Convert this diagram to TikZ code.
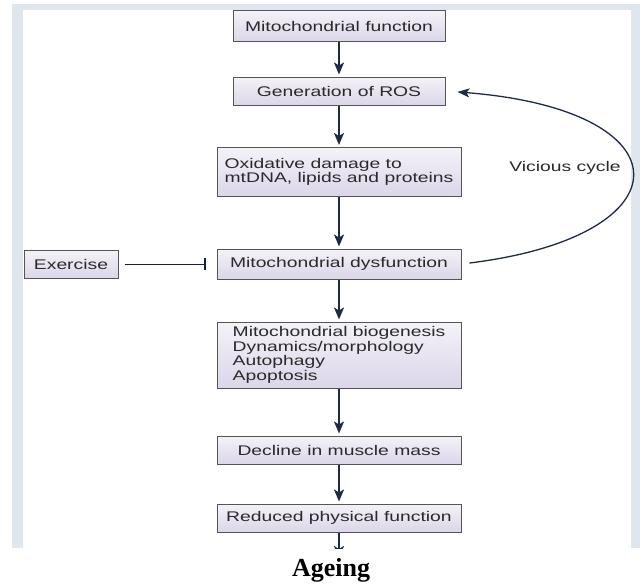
\documentclass[tikz,border=0pt]{standalone}
\usepackage{fontspec}
\newfontfamily\boxfont[FakeStretch=1.38]{Liberation Sans}
\newfontfamily\titlefont{Liberation Serif}
\usetikzlibrary{arrows.meta}

\definecolor{framebg}{HTML}{DFE6EE}
\definecolor{boxtop}{HTML}{F4F2F8}
\definecolor{boxbot}{HTML}{DBD6E9}
\definecolor{boxline}{HTML}{555555}
\definecolor{navy}{HTML}{1E2B44}
\definecolor{txt}{HTML}{2A2A2A}

\tikzset{
	boxtext/.style={text=txt, font=\boxfont\fontsize{14}{14.7}\selectfont},
	flowbox/.style={boxtext, draw=boxline, line width=1pt, top color=boxtop, bottom color=boxbot,
		minimum width=244pt, minimum height=28pt, inner sep=4pt},
	flow/.style={draw=navy, line width=2pt, shorten >=2pt,
		-{Stealth[length=12pt,width=10pt,inset=3pt]}},
	inhibit/.style={draw=navy!80!black, line width=1pt, shorten <=6pt, shorten >=11pt,
		-{Bar[width=12pt,line width=2pt]}},
	cycle arrow/.style={draw=navy, line width=1.3pt, shorten <=8pt, shorten >=12pt,
		-{Stealth[length=12pt,width=9pt,inset=3pt]}}
}

\begin{document}
\begin{tikzpicture}[x=1pt,y=-1pt]
	\useasboundingbox (0,0) rectangle (643,584);
	% panel behind the chart
	\fill[framebg] (12,4) rectangle (640,548);
	\fill[white] (23,10) rectangle (631,548);
	
	\node[flowbox, minimum width=212pt, minimum height=31pt] (mitofn) at (339,26) {Mitochondrial function};
	\node[flowbox, minimum width=212pt] (ros) at (339,91) {Generation of ROS};
	\node[flowbox, align=left, minimum height=49pt] (damage) at (339,172) {Oxidative damage to\\mtDNA, lipids and proteins};
	\node[flowbox, minimum height=30pt] (dysfn) at (339,264) {Mitochondrial dysfunction};
	\node[flowbox, minimum width=94pt] (exercise) at (71,264) {Exercise};
	\node[flowbox, align=left, minimum height=66pt] (biogen) at (339,355) {Mitochondrial biogenesis\\Dynamics/morphology\\Autophagy\\Apoptosis};
	\node[flowbox] (muscle) at (339,450) {Decline in muscle mass};
	\node[flowbox] (physfn) at (339,518) {Reduced physical function};
	\node[boxtext] (vicious) at (565,168) {Vicious cycle};
	\node[font=\titlefont\bfseries\fontsize{26}{30}\selectfont] (ageing) at (331,570) {Ageing};
	\coordinate (ageend) at (339,558);
	
	\draw[flow] (mitofn) -- (ros);
	\draw[flow] (ros) -- (damage);
	\draw[flow] (damage) -- (dysfn);
	\draw[flow] (dysfn) -- (biogen);
	\draw[flow] (biogen) -- (muscle);
	\draw[flow] (muscle) -- (physfn);
	\begin{scope}
		\clip (0,0) rectangle (643,548);
		\draw[flow, shorten >=0pt] (physfn) -- (ageend);
	\end{scope}
	
	\draw[inhibit] (exercise) -- (dysfn);
	\draw[cycle arrow] (dysfn.east) .. controls (689,236) and (689,110) .. (ros.east);
\end{tikzpicture}
\end{document}
